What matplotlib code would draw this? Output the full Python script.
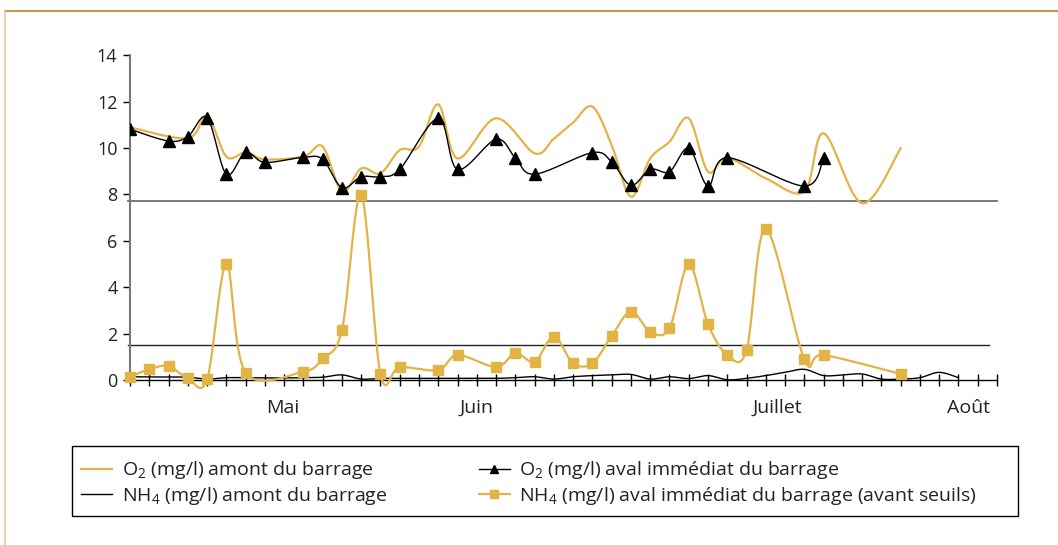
import numpy as np
import matplotlib
matplotlib.use("Agg")
import matplotlib.pyplot as plt
from matplotlib.lines import Line2D
from matplotlib.patches import Rectangle
from matplotlib.transforms import blended_transform_factory

plt.rcParams['font.family'] = ['Open Sans', 'DejaVu Sans']
plt.rcParams['mathtext.default'] = 'regular'

# --- data (x = sampling index on the category axis, 0..45) ---
o2_amont_x = [0, 3, 4, 5, 6, 7, 9, 10, 11, 12, 13, 14, 15, 16, 17, 19, 21, 22, 23, 24,
              25, 26, 27, 28, 29, 30, 31, 33, 35, 36, 38, 40]
o2_amont_y = [10.89, 10.42, 11.39, 9.63, 9.81, 9.51, 9.63, 10.06, 8.12, 9.12, 8.91, 9.91,
              10.06, 11.88, 9.55, 11.28, 9.77, 10.40, 11.1, 11.78,
              10.13, 7.9, 9.55, 10.27, 11.28, 8.98, 9.58, 8.69, 8.12, 10.63, 7.62, 9.99]

o2_aval_x = [0, 2, 3, 4, 5, 6, 7, 9, 10, 11, 12, 13, 14, 16, 17, 19, 20, 21, 24, 25,
             26, 27, 28, 29, 30, 31, 35, 36]
o2_aval_y = [10.81, 10.30, 10.49, 11.31, 8.87, 9.81, 9.38, 9.60, 9.51, 8.29, 8.76, 8.76,
             9.08, 11.28, 9.08, 10.38, 9.58, 8.87, 9.80, 9.40, 8.39, 9.08, 8.98, 9.99,
             8.36, 9.58, 8.36, 9.58]

nh4_amont_x = list(range(0, 44))
nh4_amont_y = [0.14, 0.13, 0.13, 0.12, 0.04, 0.10, 0.10, 0.09, 0.09, 0.10, 0.12, 0.22,
               0.04, 0.07, 0.07, 0.07, 0.07, 0.07, 0.07, 0.07, 0.10, 0.14, 0.04, 0.14,
               0.19, 0.22, 0.24, 0.04, 0.14, 0.06, 0.19, 0.01, 0.07, 0.19, 0.33, 0.46,
               0.19, 0.22, 0.26, 0.04, 0.04, 0.10, 0.33, 0.10]

nh4_aval_x = [0, 1, 2, 3, 4, 5, 6, 9, 10, 11, 12, 13, 14, 16, 17, 19, 20, 21, 22, 23,
              24, 25, 26, 27, 28, 29, 30, 31, 32, 33, 35, 36, 40]
nh4_aval_y = [0.14, 0.46, 0.60, 0.07, 0.03, 4.99, 0.32, 0.36, 0.93, 2.16, 7.98, 0.26,
              0.56, 0.43, 1.08, 0.56, 1.15, 0.79, 1.87, 0.72, 0.72, 1.90, 2.95, 2.08,
              2.23, 4.99, 2.41, 1.08, 1.29, 6.50, 0.90, 1.08, 0.26]

ref_o2 = 7.72
ref_nh4 = 1.50

month_pos = [7.94, 18.0, 33.6, 43.5]
month_labels = ["Mai", "Juin", "Juillet", "Août"]

YELLOW = '#E2B445'


def smooth(xs, ys, n=24):
    # Excel-like smoothed line (Catmull-Rom / Bezier through the points)
    p = np.column_stack([xs, ys]).astype(float)
    pts = []
    for i in range(len(p) - 1):
        p0 = p[i - 1] if i > 0 else p[i]
        p1, p2 = p[i], p[i + 1]
        p3 = p[i + 2] if i + 2 < len(p) else p[i + 1]
        c1 = p1 + (p2 - p0) / 6
        c2 = p2 - (p3 - p1) / 6
        t = np.linspace(0, 1, n)[:, None]
        seg = ((1 - t) ** 3) * p1 + 3 * ((1 - t) ** 2) * t * c1 + 3 * (1 - t) * t ** 2 * c2 + t ** 3 * p2
        pts.append(seg if i == 0 else seg[1:])
    s = np.vstack(pts)
    return s[:, 0], s[:, 1]


fig = plt.figure(figsize=(10.58, 5.45), dpi=100)
ax = fig.add_axes([130 / 1058, 165 / 545, 867 / 1058, 324.8 / 545])

ax.plot(*smooth(o2_amont_x, o2_amont_y), color=YELLOW, lw=1.6, zorder=3)
ax.plot(*smooth(o2_aval_x, o2_aval_y), color='black', lw=1.0, zorder=4)
ax.plot(o2_aval_x, o2_aval_y, ls='none', marker='^', ms=8.5, color='black', zorder=5)
ax.plot(*smooth(nh4_amont_x, nh4_amont_y), color='black', lw=1.0, zorder=3)
ax.plot(*smooth(nh4_aval_x, nh4_aval_y), color=YELLOW, lw=1.6, zorder=4, clip_on=False)
ax.plot(nh4_aval_x, nh4_aval_y, ls='none', marker='s', ms=7, color=YELLOW, zorder=5,
        clip_on=False)

ax.plot([-0.1, 45], [ref_o2, ref_o2], color='#6e6e6e', lw=1.3, zorder=2, clip_on=False)
ax.plot([-0.1, 44.6], [ref_nh4, ref_nh4], color='#222222', lw=1.0, zorder=2, clip_on=False)

ax.set_xlim(0, 45)
ax.set_ylim(0, 14)
for s in ['top', 'right']:
    ax.spines[s].set_visible(False)
ax.spines['left'].set_color('#777777')
ax.spines['left'].set_linewidth(1.5)
ax.spines['bottom'].set_color('black')
ax.spines['bottom'].set_linewidth(1.0)

ax.set_yticks(range(0, 15, 2))
ax.tick_params(axis='y', direction='out', length=5, width=1, pad=4, labelsize=13,
               labelcolor='#222222')
ax.set_xticks(range(0, 46))
ax.set_xticklabels([])
ax.tick_params(axis='x', which='major', direction='inout', length=9, width=1)

trans = blended_transform_factory(ax.transData, ax.transAxes)
for pos, lab in zip(month_pos, month_labels):
    ax.text(pos, -0.087, lab, transform=trans, ha='center', va='center',
            fontsize=14, color='#222222')

# decorative frame
fig.add_artist(Line2D([5 / 1058, 1], [1 - 11 / 545, 1 - 11 / 545], color='#C9974A', lw=1.5))
fig.add_artist(Line2D([5 / 1058, 5 / 1058], [0, 1 - 11 / 545], color='#E8C896', lw=1.2))

# legend box
fig.add_artist(Rectangle((72 / 1058, 29 / 545), 946 / 1058, 70 / 545, transform=fig.transFigure,
                         facecolor='white', edgecolor='black', lw=1.0, zorder=1))

handles = [
    Line2D([], [], color=YELLOW, lw=1.6),
    Line2D([], [], color='black', lw=1.0),
    Line2D([], [], color='black', lw=1.0, marker='^', ms=6),
    Line2D([], [], color=YELLOW, lw=1.6, marker='s', ms=6),
]
labels = [
    r'O$_2$ (mg/l) amont du barrage',
    r'NH$_4$ (mg/l) amont du barrage',
    r'O$_2$ (mg/l) aval immédiat du barrage',
    r'NH$_4$ (mg/l) aval immédiat du barrage (avant seuils)',
]
leg = fig.legend(handles, labels, ncol=2, loc='lower left',
                 bbox_to_anchor=(72 / 1058, 29 / 545),
                 frameon=False, fontsize=14, handlelength=1.6, handletextpad=0.5,
                 borderpad=0.45, labelspacing=0.2, columnspacing=4.7, borderaxespad=0)
leg.set_zorder(2)
for t in leg.get_texts():
    t.set_color('#222222')

fig.savefig("out.png", dpi=100)
